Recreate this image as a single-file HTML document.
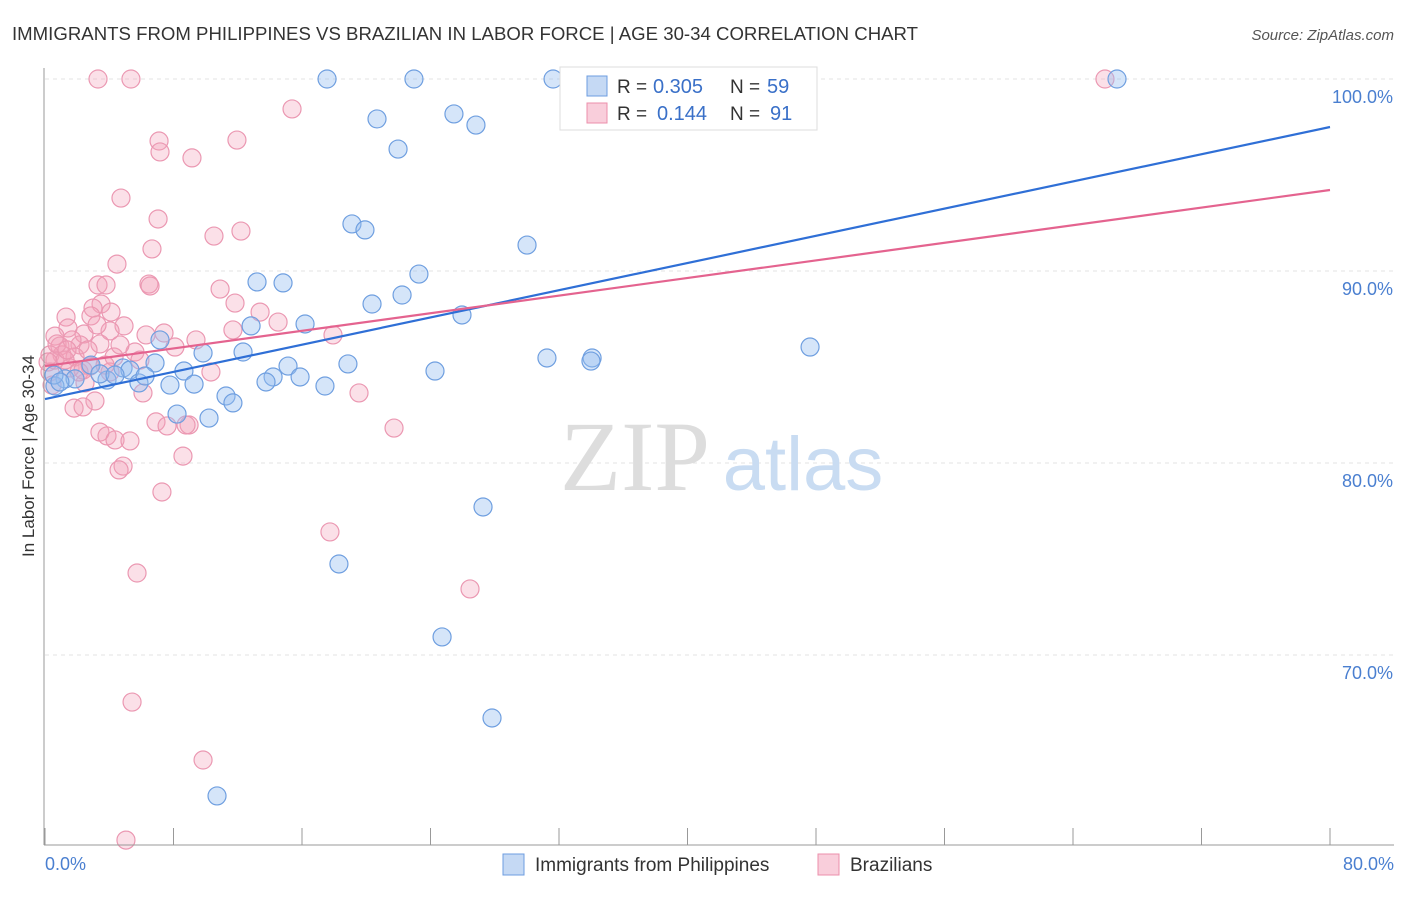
<!DOCTYPE html>
<html><head><meta charset="utf-8"><style>
body{margin:0;background:#fff;font-family:"Liberation Sans",sans-serif;}
</style></head><body>
<svg id="chart" width="1406" height="892" xmlns="http://www.w3.org/2000/svg" font-family="Liberation Sans, sans-serif">
<text x="12" y="40" font-size="18.6" fill="#333" textLength="906">IMMIGRANTS FROM PHILIPPINES VS BRAZILIAN IN LABOR FORCE | AGE 30-34 CORRELATION CHART</text>
<text x="1394" y="40" font-size="15" fill="#555" text-anchor="end" font-style="italic">Source: ZipAtlas.com</text>
<text transform="translate(34,456) rotate(-90)" font-size="17" fill="#333" text-anchor="middle">In Labor Force | Age 30-34</text>
<g id="grid"></g>
<g>
<text x="635" y="490" font-size="100" fill="#ddd" font-family="Liberation Serif, serif" text-anchor="middle">ZIP</text>
<text x="803" y="490" font-size="76" fill="#c9dcf2" text-anchor="middle">atlas</text>
</g>
<g id="points"></g>
<g id="trends"></g>
<line x1="44" y1="68" x2="44" y2="845" stroke="#999" stroke-width="1"/>
<line x1="44" y1="845" x2="1394" y2="845" stroke="#999" stroke-width="1"/>
<g id="ticks"></g>
<text x="45" y="870" font-size="18" fill="#4a7fd0">0.0%</text>
<text x="1394" y="870" font-size="18" fill="#4a7fd0" text-anchor="end">80.0%</text>
<g>
<rect x="560" y="67" width="257" height="63" fill="#fff" stroke="#ddd"/>
<rect x="587" y="76" width="20" height="20" fill="#c5d9f4" stroke="#6d9de0"/>
<rect x="587" y="103" width="20" height="20" fill="#f9cedb" stroke="#ec8fab"/>
<text x="617" y="93" font-size="19" fill="#333">R =</text>
<text x="653" y="93" font-size="20" fill="#3a70c8">0.305</text>
<text x="730" y="93" font-size="19" fill="#333">N =</text>
<text x="767" y="93" font-size="20" fill="#3a70c8">59</text>
<text x="617" y="120" font-size="19" fill="#333">R =</text>
<text x="657" y="120" font-size="20" fill="#3a70c8">0.144</text>
<text x="730" y="120" font-size="19" fill="#333">N =</text>
<text x="770" y="120" font-size="20" fill="#3a70c8">91</text>
</g>
<g>
<rect x="503" y="854" width="21" height="21" fill="#c5d9f4" stroke="#6d9de0"/>
<text x="535" y="871" font-size="19" fill="#333">Immigrants from Philippines</text>
<rect x="818" y="854" width="21" height="21" fill="#f9cedb" stroke="#ec8fab"/>
<text x="850" y="871" font-size="19" fill="#333">Brazilians</text>
</g>
</svg>
<script>
const yTicks=[100,90,80,70];
const yTickLabels=["100.0%","90.0%","80.0%","70.0%"];
const xTicks=[0,8,16,24,32,40,48,56,64,72,80];
const blueX=[17.56,22.97,31.63,66.74,20.67,25.46,26.83,21.98,19.11,19.92,30.01,23.28,13.2,14.82,22.23,20.36,25.96,12.83,16.19,7.16,12.33,9.84,47.63,31.25,34.06,33.99,18.86,15.13,6.85,2.86,4.86,5.29,8.65,24.28,14.2,15.88,13.76,1.25,1.87,3.86,5.85,7.78,9.28,17.43,0.62,11.27,11.7,8.22,10.21,27.27,18.3,24.72,27.83,10.71,0.56,3.42,0.93,4.36,6.23];
const blueY=[100,100,100,100,97.92,98.18,97.6,96.35,92.45,92.14,91.35,89.84,89.43,89.38,88.75,88.28,87.71,87.14,87.24,86.41,85.78,85.73,86.04,85.47,85.47,85.31,85.16,85.05,85.21,85.1,84.95,84.84,84.79,84.79,84.48,84.48,84.22,84.38,84.38,84.32,84.17,84.06,84.11,84.01,84.01,83.49,83.13,82.55,82.34,77.71,74.74,70.94,66.72,62.66,84.58,84.64,84.22,84.58,84.53];
const pinkX=[3.3,5.35,65.99,15.38,7.1,11.95,7.16,9.15,4.73,7.04,10.52,12.2,6.66,4.48,6.47,6.54,3.3,3.8,10.9,11.83,13.39,3.49,2.99,4.11,1.31,2.86,4.92,1.43,4.05,2.43,7.41,9.4,0.62,11.7,14.51,17.93,6.29,8.09,0.93,2.18,3.42,5.6,4.3,1.06,0.31,1.87,0.62,1.56,2.8,10.33,4.05,2.49,6.1,19.55,3.11,1.81,2.37,6.91,7.6,8.97,8.78,21.73,3.42,3.86,4.36,5.29,8.59,4.86,4.61,7.28,17.74,5.73,26.46,5.42,9.84,5.04,0.31,0.19,0.75,1.25,1.68,2.68,0.44,3.74,3.24,2.12,2.37,1.37,4.67,5.91];
const pinkY=[100,100,100,98.44,96.77,96.82,96.2,95.89,93.8,92.71,91.82,92.08,91.15,90.36,89.32,89.22,89.27,89.27,89.06,88.33,87.86,88.28,88.07,87.86,87.6,87.66,87.14,87.03,86.88,86.72,86.77,86.41,86.61,86.93,87.34,86.67,86.67,86.04,86.09,86.15,86.2,85.78,85.52,85.63,85.63,85.52,85.36,84.95,85.05,84.74,84.74,84.17,83.65,83.65,83.23,82.86,82.92,82.14,81.93,81.98,81.98,81.82,81.61,81.41,81.2,81.15,80.36,79.84,79.64,78.49,76.41,74.27,73.44,67.55,64.53,60.36,84.74,85.26,86.2,85.36,86.41,85.89,84.06,85.1,87.19,84.74,84.84,85.89,86.15,85.36];
const blueTrend=[83.33,97.5];
const pinkTrend=[85.05,94.22];
const NS="http://www.w3.org/2000/svg";
const sx=v=>45+v*(1285/80);
const sy=v=>79+(100-v)*19.2;
function mk(tag,attrs,parent){const e=document.createElementNS(NS,tag);for(const k in attrs)e.setAttribute(k,attrs[k]);parent.appendChild(e);return e;}
const grid=document.getElementById('grid');
yTicks.forEach((t,i)=>{
 const l=mk('line',{x1:45,x2:1394,y1:sy(t),y2:sy(t),stroke:'#e3e3e3','stroke-dasharray':'4,4'},grid);
 
 
 const tx=mk('text',{x:1393,y:sy(t)+24,'font-size':18,fill:'#4a7fd0','text-anchor':'end'},grid);
 tx.textContent=yTickLabels[i];
 
 
});
const ticks=document.getElementById('ticks');
xTicks.forEach(t=>{
 const l=mk('line',{x1:sx(t),x2:sx(t),y1:828,y2:845,stroke:'#999'},ticks);
 
 
});
const pts=document.getElementById('points');
pinkX.forEach((x,i)=>{
 const c=mk('circle',{cx:sx(x),cy:sy(pinkY[i]),r:9,fill:'rgba(244,160,185,0.33)',stroke:'#eb98b2','stroke-width':1.2},pts);
 
 
});
blueX.forEach((x,i)=>{
 const c=mk('circle',{cx:sx(x),cy:sy(blueY[i]),r:9,fill:'rgba(150,190,240,0.4)',stroke:'#6f9fe0','stroke-width':1.2},pts);
 
 
});
const tr=document.getElementById('trends');
const bl=mk('line',{x1:sx(0),y1:sy(blueTrend[0]),x2:sx(80),y2:sy(blueTrend[1]),stroke:'#2f6fd6','stroke-width':2.2},tr);


const pl=mk('line',{x1:sx(0),y1:sy(pinkTrend[0]),x2:sx(80),y2:sy(pinkTrend[1]),stroke:'#e4638f','stroke-width':2.2},tr);


</script>
</body></html>
